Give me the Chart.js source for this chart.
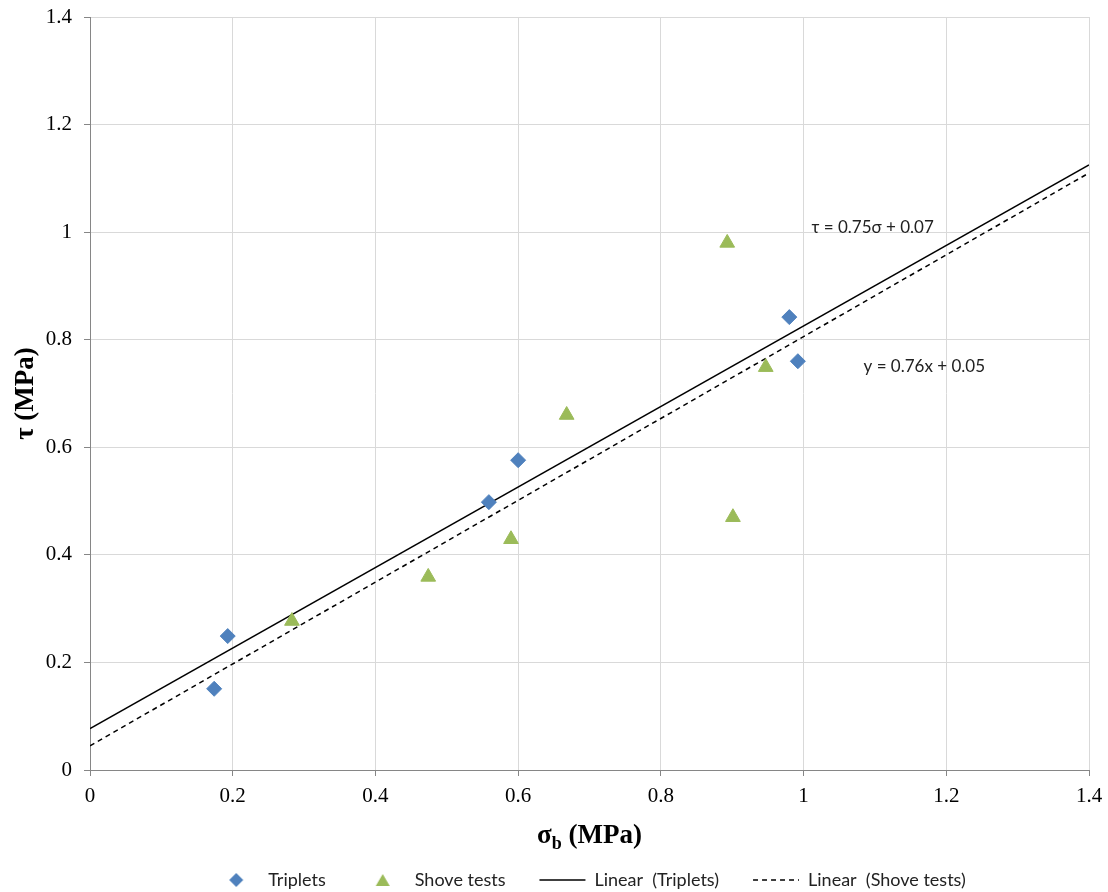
<!DOCTYPE html>
<html>
<head>
<meta charset="utf-8">
<script src="https://cdn.jsdelivr.net/npm/chart.js@4"></script>
<style>
html, body { margin: 0; padding: 0; background: #fff; }
</style>
</head>
<body>
<canvas id="chart" width="1108" height="892"></canvas>
<script>
// values (MPa)
const tripletsX = [0.174, 0.193, 0.559, 0.600, 0.980, 0.992];
const tripletsY = [0.151, 0.249, 0.498, 0.576, 0.842, 0.760];
const shoveX = [0.283, 0.474, 0.590, 0.668, 0.893, 0.901, 0.947];
const shoveY = [0.277, 0.359, 0.429, 0.660, 0.980, 0.470, 0.749];

// trend line end points
const trendX = [0, 1.4];
const trendTripletsY = [0.077, 1.125];
const trendShoveY = [0.045, 1.110];

const tickValues = [0, 0.2, 0.4, 0.6, 0.8, 1, 1.2, 1.4];
const tickLabels = ['0', '0.2', '0.4', '0.6', '0.8', '1', '1.2', '1.4'];
const seriesNames = ['Triplets', 'Shove tests', 'Linear  (Triplets)', 'Linear  (Shove tests)'];
const equations = ['τ = 0.75σ + 0.07', 'y = 0.76x + 0.05'];
const equationAt = [[1.011, 1.009], [1.084, 0.751]];

const blue = '#4f81bd';
const green = '#9bbb59';

function pairs(xs, ys) {
    return xs.map((x, i) => ({ x: x, y: ys[i] }));
}

function tickText(v) {
    const i = tickValues.findIndex(t => Math.abs(t - v) < 1e-6);
    return i >= 0 ? tickLabels[i] : '';
}

// legend icons (built-in point styles get stretched by pointStyleWidth)
function makeIcon(color, pts) {
    const cv = document.createElement('canvas');
    cv.width = 16;
    cv.height = 16;
    const c = cv.getContext('2d');
    c.fillStyle = color;
    c.beginPath();
    c.moveTo(pts[0][0], pts[0][1]);
    for (let i = 1; i < pts.length; i++) c.lineTo(pts[i][0], pts[i][1]);
    c.closePath();
    c.fill();
    return cv;
}
const diamondIcon = makeIcon(blue, [[8, 1], [15, 8], [8, 15], [1, 8]]);
const triangleIcon = makeIcon(green, [[8, 2], [15, 14], [1, 14]]);

const equationLabels = {
    id: 'equationLabels',
    afterDatasetsDraw(chart) {
        const ctx = chart.ctx;
        const xs = chart.scales.x, ys = chart.scales.y;
        ctx.save();
        ctx.font = '17px Lato';
        ctx.fillStyle = '#222';
        ctx.textAlign = 'left';
        ctx.textBaseline = 'middle';
        equations.forEach((t, i) => {
            ctx.fillText(t, xs.getPixelForValue(equationAt[i][0]), ys.getPixelForValue(equationAt[i][1]));
        });
        ctx.restore();
    }
};

// x axis title with subscript b
const xTitle = {
    id: 'xTitle',
    afterDraw(chart) {
        const ctx = chart.ctx;
        const area = chart.chartArea;
        const big = 'bold 27px "Liberation Serif"';
        const small = 'bold 18px "Liberation Serif"';
        ctx.save();
        ctx.fillStyle = '#000';
        ctx.textBaseline = 'alphabetic';
        ctx.textAlign = 'left';
        ctx.font = big;
        const w1 = ctx.measureText('σ').width;
        const w3 = ctx.measureText(' (MPa)').width;
        ctx.font = small;
        const w2 = ctx.measureText('b').width;
        let x = (area.left + area.right) / 2 - (w1 + w2 + w3) / 2;
        const base = 843;
        ctx.font = big;
        ctx.fillText('σ', x, base);
        x += w1;
        ctx.font = small;
        ctx.fillText('b', x, base + 6);
        x += w2;
        ctx.font = big;
        ctx.fillText(' (MPa)', x, base);
        ctx.restore();
    }
};

const ctx = document.getElementById('chart').getContext('2d');
const chart = new Chart(ctx, {
    type: 'scatter',
    data: {
        datasets: [
            {
                label: seriesNames[0],
                data: pairs(tripletsX, tripletsY),
                pointStyle: 'rectRot',
                pointRadius: 7.5,
                backgroundColor: blue,
                borderColor: blue,
                borderWidth: 1,
                order: 1
            },
            {
                label: seriesNames[1],
                data: pairs(shoveX, shoveY),
                pointStyle: 'triangle',
                pointRadius: 8.5,
                backgroundColor: green,
                borderColor: green,
                borderWidth: 1,
                order: 1
            },
            {
                label: seriesNames[2],
                data: pairs(trendX, trendTripletsY),
                showLine: true,
                pointRadius: 0,
                pointStyle: 'line',
                borderColor: '#000',
                backgroundColor: '#000',
                borderWidth: 1.5,
                order: 2
            },
            {
                label: seriesNames[3],
                data: pairs(trendX, trendShoveY),
                showLine: true,
                pointRadius: 0,
                pointStyle: 'line',
                borderColor: '#000',
                backgroundColor: '#000',
                borderWidth: 1.5,
                borderDash: [5, 4],
                order: 2
            }
        ]
    },
    options: {
        responsive: false,
        animation: false,
        devicePixelRatio: 1,
        layout: { padding: { left: 0, right: 19, top: 17, bottom: -7 } },
        scales: {
            x: {
                type: 'linear',
                min: 0,
                max: 1.4,
                ticks: {
                    stepSize: 0.2,
                    padding: 8,
                    color: '#000',
                    font: { family: 'Liberation Serif', size: 21 },
                    callback: tickText
                },
                grid: { color: '#d9d9d9', tickColor: '#868686', tickLength: 6 },
                border: { color: '#868686' },
                afterFit(scale) {
                    scale.height = 67;
                    scale.paddingLeft = 0;
                    scale.paddingRight = 0;
                }
            },
            y: {
                type: 'linear',
                min: 0,
                max: 1.4,
                ticks: {
                    stepSize: 0.2,
                    padding: 12,
                    color: '#000',
                    font: { family: 'Liberation Serif', size: 21 },
                    callback: tickText
                },
                grid: { color: '#d9d9d9', tickColor: '#868686', tickLength: 6 },
                border: { color: '#868686' },
                title: {
                    display: true,
                    text: 'τ (MPa)',
                    color: '#000',
                    font: { family: 'Liberation Serif', size: 27, weight: 'bold' },
                    padding: { top: 10, bottom: 0 }
                },
                afterFit(scale) {
                    scale.width = 90;
                    scale.paddingTop = 0;
                    scale.paddingBottom = 0;
                }
            }
        },
        plugins: {
            legend: {
                position: 'bottom',
                fullSize: false,
                labels: {
                    usePointStyle: true,
                    pointStyleWidth: 46,
                    boxHeight: 10,
                    padding: 34,
                    color: '#222',
                    font: { family: 'Lato', size: 18 },
                    sort: (a, b) => a.datasetIndex - b.datasetIndex,
                    generateLabels(chart) {
                        const items = Chart.defaults.plugins.legend.labels.generateLabels(chart);
                        items.forEach(it => {
                            const ds = chart.data.datasets[it.datasetIndex];
                            if (it.datasetIndex === 0) it.pointStyle = diamondIcon;
                            if (it.datasetIndex === 1) it.pointStyle = triangleIcon;
                            if (it.datasetIndex >= 2) {
                                it.lineDash = ds.borderDash || [];
                                it.lineWidth = 1.5;
                                it.strokeStyle = '#000';
                            }
                        });
                        return items;
                    }
                }
            },
            tooltip: { enabled: false }
        }
    },
    plugins: [equationLabels, xTitle]
});
</script>
</body>
</html>
